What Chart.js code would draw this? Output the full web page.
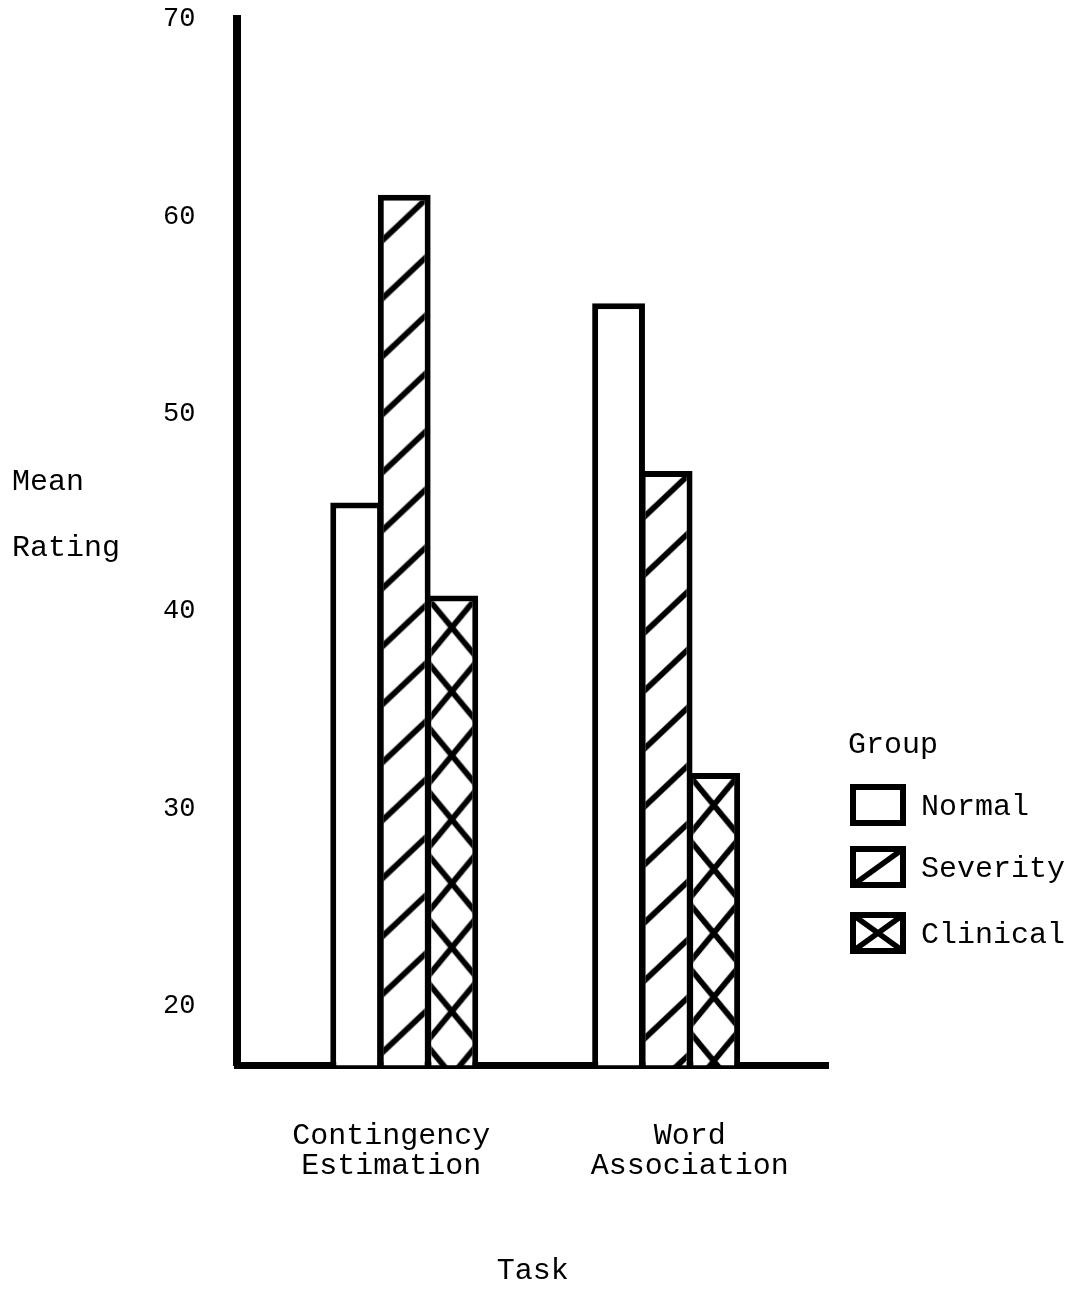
<!DOCTYPE html>
<html>
<head>
<meta charset="utf-8">
<script src="https://cdn.jsdelivr.net/npm/chart.js@4.4.0/dist/chart.umd.min.js"></script>
<style>
    html, body { margin: 0; padding: 0; background: #fff; }
    #wrap { width: 1089px; height: 1314px; }
</style>
</head>
<body>
<div id="wrap"><canvas id="ratingChart"></canvas></div>
<script>
// Data
const taskPositions = [1, 2];
const taskLabelPositions = [0.95, 2.09]; // the typed labels sit a little off the bar groups
const taskLabels = [['Contingency', 'Estimation'], ['Word', 'Association']];
const groupNames = ['Normal', 'Severity', 'Clinical'];
const normalRatings = [45.5, 55.6];
const severityRatings = [61.1, 47.1];
const clinicalRatings = [40.8, 31.8];
const yTicks = [20, 30, 40, 50, 60, 70];

const FONT = '"Liberation Mono", "Courier New", monospace';
const TILE_W = 50;

// Build a hatch tile: 'slash' = single diagonals, 'cross' = diamonds
function makePattern(kind) {
    const h = kind === 'slash' ? 58 : 64;
    const c = document.createElement('canvas');
    c.width = TILE_W;
    c.height = h;
    const g = c.getContext('2d');
    g.fillStyle = '#fff';
    g.fillRect(0, 0, TILE_W, h);
    g.strokeStyle = '#000';
    g.lineWidth = 5.5;
    for (const dy of [-h, 0, h]) {
        g.beginPath();
        if (kind === 'slash') {
            g.moveTo(-6, TILE_W + 6 + dy);
            g.lineTo(TILE_W + 6, -6 + dy);
        } else {
            const k = h / TILE_W;
            g.moveTo(-6, -6 * k + dy);
            g.lineTo(TILE_W + 6, h + 6 * k + dy);
            g.moveTo(TILE_W + 6, -6 * k + dy);
            g.lineTo(-6, h + 6 * k + dy);
        }
        g.stroke();
    }
    return g.createPattern(c, 'repeat');
}

// one pattern object per bar so each can be aligned to its own bar
const severityFill = taskPositions.map(() => makePattern('slash'));
const clinicalFill = taskPositions.map(() => makePattern('cross'));

// Line the hatch tiles up with the left/top edge of every bar
const alignHatch = {
    id: 'alignHatch',
    beforeDatasetsDraw(chart) {
        chart.data.datasets.forEach((ds, i) => {
            if (!Array.isArray(ds.backgroundColor)) return;
            chart.getDatasetMeta(i).data.forEach((bar, j) => {
                const p = ds.backgroundColor[j];
                const left = bar.x - bar.width / 2;
                p.setTransform(new DOMMatrix().translate(left, bar.y).scale(bar.width / TILE_W, 1));
            });
        });
    }
};

// Horizontal y title and the "Group" key on the right
const sideText = {
    id: 'sideText',
    afterDraw(chart) {
        const ctx = chart.ctx;
        const area = chart.chartArea;
        ctx.save();
        ctx.fillStyle = '#000';
        ctx.strokeStyle = '#000';
        ctx.font = '30px ' + FONT;
        ctx.textBaseline = 'middle';
        ctx.textAlign = 'left';
        ctx.fillText('Mean', 12, 482);
        ctx.fillText('Rating', 12, 548);

        const kx = area.right + 20;
        ctx.fillText('Group', kx, 745);
        const boxX = kx + 5, boxW = 50, boxH = 36;
        const rows = [805, 867, 933];
        groupNames.forEach((name, i) => {
            const top = rows[i] - boxH / 2;
            ctx.fillStyle = '#fff';
            ctx.fillRect(boxX, top, boxW, boxH);
            ctx.lineWidth = 5.5;
            ctx.beginPath();
            if (i === 1) {
                ctx.moveTo(boxX, top + boxH);
                ctx.lineTo(boxX + boxW, top);
            } else if (i === 2) {
                ctx.moveTo(boxX, top);
                ctx.lineTo(boxX + boxW, top + boxH);
                ctx.moveTo(boxX + boxW, top);
                ctx.lineTo(boxX, top + boxH);
            }
            ctx.stroke();
            ctx.lineWidth = 6;
            ctx.strokeRect(boxX, top, boxW, boxH);
            ctx.fillStyle = '#000';
            ctx.fillText(name, boxX + boxW + 18, rows[i] + 2);
        });
        ctx.restore();
    }
};

Chart.defaults.font.family = FONT;
Chart.defaults.color = '#000';

const ctx = document.getElementById('ratingChart').getContext('2d');
new Chart(ctx, {
    type: 'bar',
    data: {
        labels: taskPositions,
        datasets: [
            {
                label: groupNames[0],
                data: normalRatings,
                backgroundColor: '#fff',
                borderColor: '#000',
                borderWidth: 6
            },
            {
                label: groupNames[1],
                data: severityRatings,
                backgroundColor: severityFill,
                borderColor: '#000',
                borderWidth: 6
            },
            {
                label: groupNames[2],
                data: clinicalRatings,
                backgroundColor: clinicalFill,
                borderColor: '#000',
                borderWidth: 6
            }
        ]
    },
    options: {
        responsive: true,
        maintainAspectRatio: false,
        animation: false,
        events: [],
        categoryPercentage: 0.545,
        barPercentage: 1.11,
        layout: {
            autoPadding: false,
            padding: { left: 161, right: 261, top: 19, bottom: 25 }
        },
        plugins: {
            legend: { display: false },
            tooltip: { enabled: false }
        },
        scales: {
            x: {
                type: 'linear',
                min: 0.363,
                max: 2.618,
                offset: false,
                afterBuildTicks: (scale) => {
                    scale.ticks = taskLabelPositions.map(v => ({ value: v }));
                },
                ticks: {
                    autoSkip: false,
                    maxRotation: 0,
                    padding: 0,
                    font: { size: 30, lineHeight: 1.03 },
                    callback: (value) => taskLabels[taskLabelPositions.indexOf(value)]
                },
                // invisible tick marks: their length is the gap under the axis
                grid: { display: false, drawTicks: true, tickLength: 55 },
                border: { display: true, color: '#000', width: 7 },
                title: {
                    display: true,
                    text: 'Task',
                    font: { size: 30 },
                    padding: { top: 71, bottom: 0 }
                }
            },
            y: {
                min: 17,
                max: 70,
                afterBuildTicks: (scale) => {
                    scale.ticks = yTicks.map(v => ({ value: v }));
                },
                ticks: {
                    padding: 2,
                    font: { size: 27 }
                },
                grid: { display: false, drawTicks: true, tickLength: 40 },
                border: { display: true, color: '#000', width: 8 }
            }
        }
    },
    plugins: [alignHatch, sideText]
});
</script>
</body>
</html>
